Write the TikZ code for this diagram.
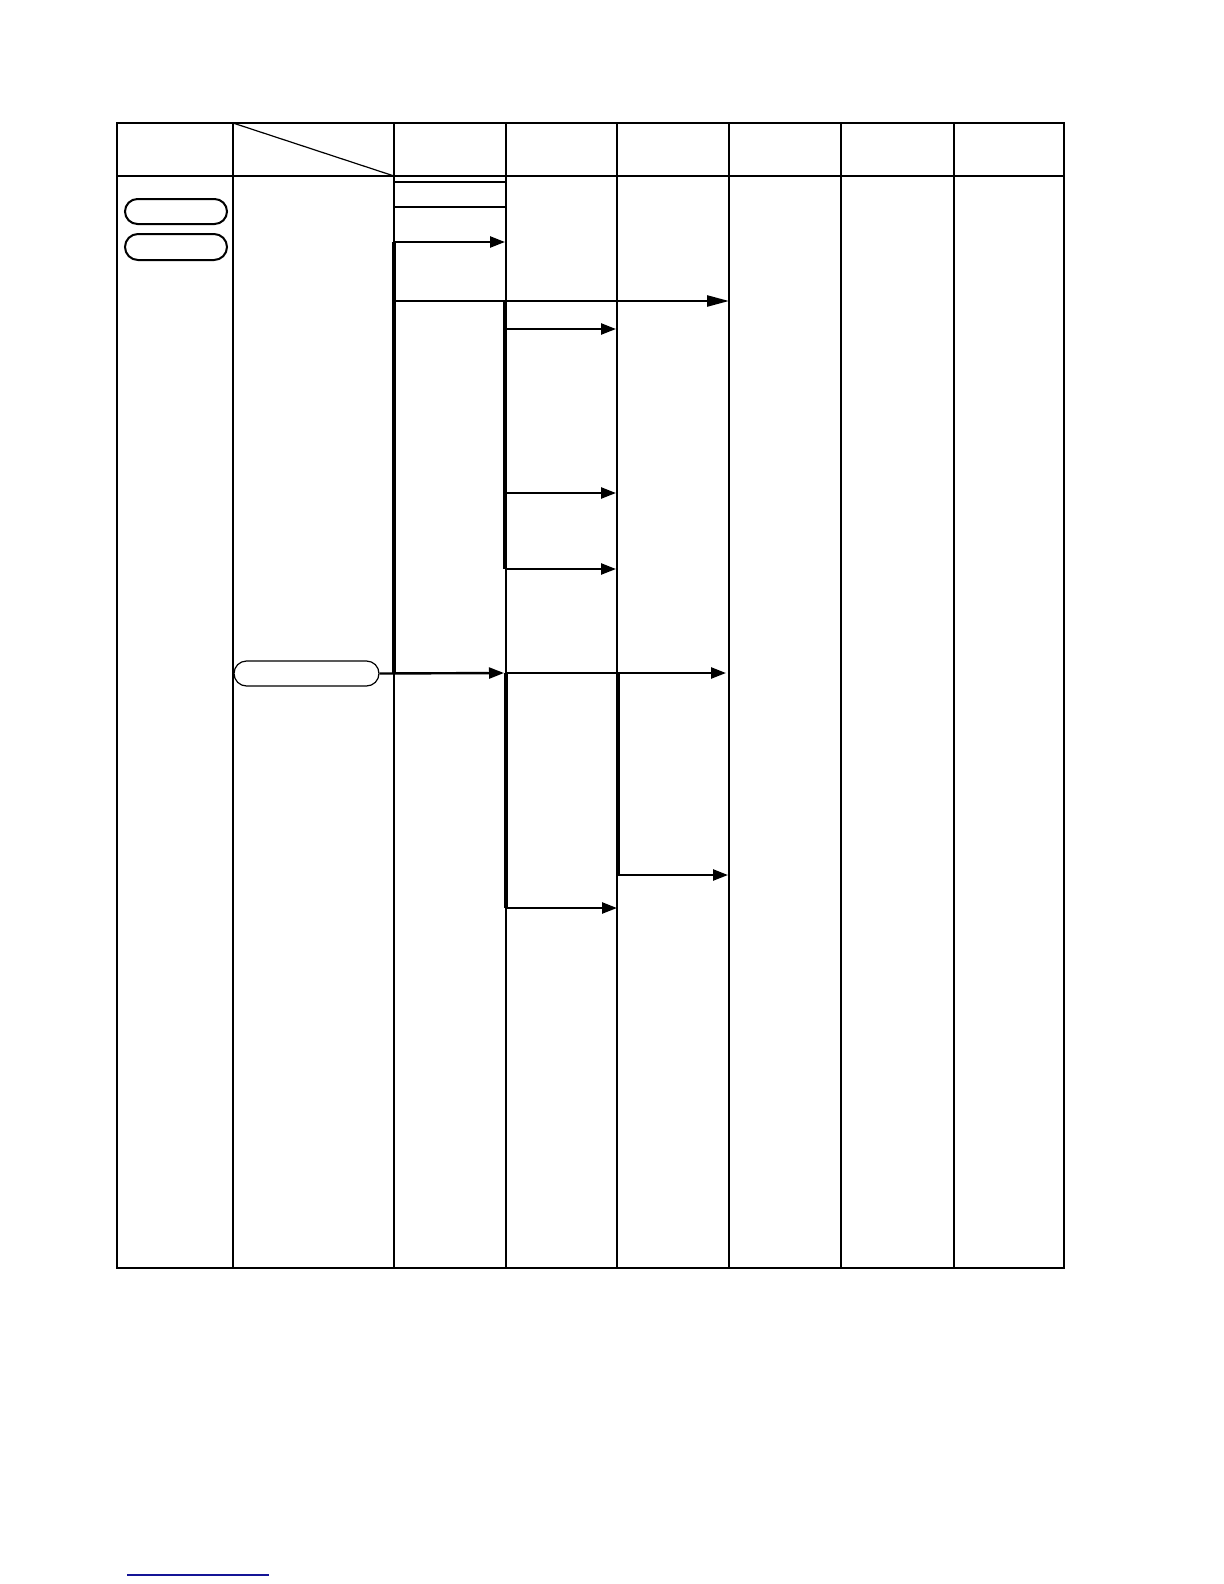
\documentclass[tikz,border=0pt]{standalone}
\usetikzlibrary{arrows.meta, positioning, shapes.misc}
\tikzstyle{grid} = [line width=1pt]
\tikzstyle{thin} = [line width=0.6pt]
\tikzstyle{pill} = [rounded rectangle, draw, line width=1pt, inner sep=0pt]
\tikzstyle{bus} = [line width=1.8pt]
\tikzstyle{arrow} = [line width=1.2pt, -{Triangle[length=7.5pt,width=5.5pt]}]
\tikzstyle{longarrow} = [line width=1.2pt, -{Triangle[length=11pt,width=5.5pt]}]
\definecolor{linkblue}{RGB}{20,20,150}
\begin{document}
\begin{tikzpicture}[x=0.5pt, y=-0.5pt]
        \useasboundingbox (0,0) rectangle (1224,1584);

        % Table frame and columns
        \draw [grid] (117,123) rectangle (1064,1268);
        \draw [grid] (117,176) -- (1064,176);
        \foreach \x in {233,394,506,617,729,841,954}
            \draw [grid] (\x,123) -- (\x,1268);
        \draw [thin] (233,123) -- (394,176); % header diagonal

        % Short rules in third column
        \draw [line width=0.8pt] (395,182) -- (505,182);
        \draw [line width=0.8pt] (393,207) -- (507,207);

        % Rounded boxes
        \node (start) [pill, minimum width=51pt, minimum height=12.5pt] at (176,211.5) {};
        \node (stop) [pill, minimum width=51pt, minimum height=13pt, below=4pt of start] {};
        \node (entry) [pill, thin, minimum width=72.5pt, minimum height=12.5pt] at (306.5,673.5) {};

        % Junction points
        \coordinate (busA_top) at (394,242);
        \coordinate (busA_mid) at (394,301);
        \coordinate (busA_bot) at (394,673);
        \coordinate (busB_top) at (505,301);
        \coordinate (busB_a) at (505,329);
        \coordinate (busB_b) at (505,493);
        \coordinate (busB_bot) at (505,569);
        \coordinate (busC_top) at (506,673);
        \coordinate (busC_bot) at (506,908);
        \coordinate (busD_top) at (618,673);
        \coordinate (busD_bot) at (618,875);

        % Target points
        \coordinate (t1) at (505,242);
        \coordinate (t2) at (729,301);
        \coordinate (t3) at (616,329);
        \coordinate (t4) at (616,493);
        \coordinate (t5) at (616,569);
        \coordinate (t6) at (504,673);
        \coordinate (t7) at (726,673);
        \coordinate (t8) at (617,908);
        \coordinate (t9) at (728,875);

        % Vertical buses
        \draw [bus] (busA_top) -- (busA_bot);
        \draw [bus] (busB_top) -- (busB_bot);
        \draw [bus] (busC_top) -- (busC_bot);
        \draw [bus] (busD_top) -- (busD_bot);

        % Arrows
        \draw [arrow] (busA_top) -- (t1);
        \draw [longarrow] (busA_mid) -- (t2);
        \draw [arrow] (busB_a) -- (t3);
        \draw [arrow] (busB_b) -- (t4);
        \draw [arrow] (busB_bot) -- (t5);
        \draw [arrow] (entry.east) -- (t6);
        \draw [arrow] (busC_top) -- (t7);
        \draw [arrow] (busC_bot) -- (t8);
        \draw [arrow] (busD_bot) -- (t9);

        % Footer rule
        \coordinate (foot_l) at (127,1575);
        \coordinate (foot_r) at (269,1575);
        \draw [linkblue, line width=0.8pt] (foot_l) -- (foot_r);

\end{tikzpicture}
\end{document}
